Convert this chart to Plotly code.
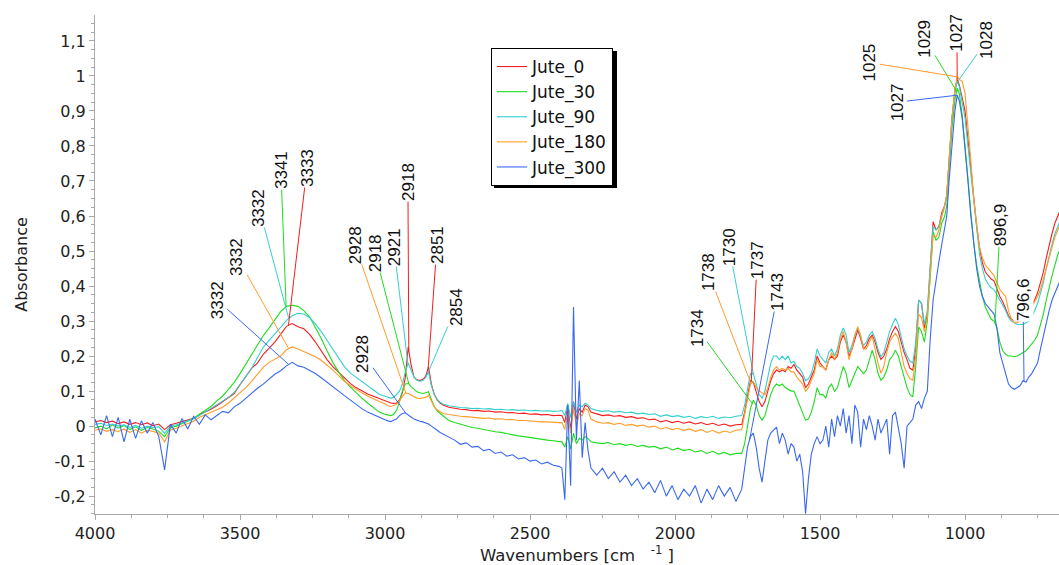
import numpy as np
import plotly.graph_objects as go

# ---- sampling grid (wavenumbers, cm-1), high to low ----
WN = (list(range(4000, 3599, -20)) + list(range(3580, 2999, -20)) +
      list(range(2990, 2799, -10)) + list(range(2780, 2399, -20)) +
      list(range(2390, 2289, -10)) + list(range(2270, 1789, -20)) +
      list(range(1770, 1499, -10)) + list(range(1490, 1129, -10)) +
      [1120, 1110, 1100, 1090, 1080, 1070, 1063, 1055, 1045, 1035, 1027,
       1020, 1010, 1000, 990, 980, 970, 960, 950, 940, 930, 920, 910, 900,
       890, 880, 870, 860, 850, 840, 830, 820, 810, 800, 790, 780, 770,
       760, 750, 740, 730, 720, 710, 700, 690, 680, 670])

# ---- absorbance per sample ----
jute_0 = [
    0.012, 0.016, 0.010, 0.014, 0.007, 0.012, 0.005, 0.010, 0.004, 0.009, 0.001, 0.006, -0.010, 0.004, 0.008, 0.012, 0.016, 0.022, 0.033, 0.040, 0.048,
    0.058, 0.070, 0.080, 0.093, 0.118, 0.142, 0.165, 0.180, 0.205, 0.222, 0.240, 0.262, 0.285, 0.293, 0.284, 0.278, 0.262, 0.240, 0.214, 0.190, 0.170, 0.153, 0.138, 0.122, 0.110, 0.100, 0.092, 0.085, 0.079, 0.073,
    0.068, 0.066, 0.065, 0.066, 0.075, 0.095, 0.140, 0.226, 0.175, 0.140, 0.132, 0.130, 0.133, 0.142, 0.169, 0.120, 0.090, 0.075, 0.066, 0.060,
    0.054, 0.050, 0.048, 0.047, 0.044, 0.045, 0.042, 0.043, 0.040, 0.041, 0.038, 0.039, 0.036, 0.037, 0.034, 0.035, 0.032, 0.033, 0.030, 0.031,
    0.030, 0.010, 0.060, -0.010, 0.070, 0.020, 0.050, 0.040, 0.060, 0.055, 0.040,
    0.035, 0.030, 0.032, 0.028, 0.030, 0.025, 0.027, 0.022, 0.024, 0.018, 0.020, 0.012, 0.016, 0.010, 0.014, 0.008, 0.012, 0.006, 0.010, 0.004, 0.008, 0.002, 0.006, 0.000, 0.004,
    0.005, 0.040, 0.090, 0.130, 0.125, 0.100, 0.070, 0.055, 0.070, 0.100, 0.130, 0.150, 0.160, 0.155, 0.160, 0.155, 0.170, 0.165, 0.176, 0.160, 0.150, 0.140, 0.110, 0.120, 0.140, 0.160, 0.200, 0.180,
    0.170, 0.160, 0.190, 0.200, 0.190, 0.200, 0.240, 0.260, 0.240, 0.200, 0.220, 0.250, 0.274, 0.250, 0.220, 0.230, 0.250, 0.260, 0.240, 0.210, 0.190, 0.200, 0.220, 0.250, 0.270, 0.284, 0.270, 0.240, 0.210, 0.190, 0.165, 0.160, 0.220, 0.360, 0.350, 0.280, 0.320,
    0.450, 0.584, 0.560, 0.570, 0.610, 0.630, 0.660, 0.770, 0.880, 0.960, 0.990, 0.975, 0.940, 0.900, 0.820, 0.740, 0.640, 0.570, 0.510, 0.466, 0.440, 0.430, 0.420, 0.415, 0.390, 0.370, 0.355, 0.335, 0.315, 0.305, 0.300, 0.300, 0.305, 0.310, 0.320, 0.330, 0.345, 0.360, 0.380, 0.410, 0.440, 0.480, 0.520, 0.550, 0.580, 0.600, 0.620,
]
jute_30 = [
    -0.005, 0.000, -0.008, 0.004, -0.006, 0.002, -0.010, -0.002, -0.012, -0.004, -0.008, -0.015, -0.030, -0.005, 0.000, 0.008, 0.014, 0.022, 0.034, 0.045, 0.056,
    0.072, 0.086, 0.105, 0.125, 0.150, 0.178, 0.205, 0.232, 0.258, 0.280, 0.305, 0.327, 0.342, 0.345, 0.342, 0.330, 0.312, 0.282, 0.250, 0.215, 0.182, 0.155, 0.130, 0.112, 0.095, 0.080, 0.066, 0.052, 0.040, 0.034,
    0.032, 0.030, 0.034, 0.045, 0.070, 0.100, 0.120, 0.123, 0.113, 0.104, 0.098, 0.095, 0.093, 0.095, 0.098, 0.075, 0.056, 0.043, 0.036, 0.031,
    0.016, 0.010, 0.005, 0.001, -0.004, -0.006, -0.010, -0.012, -0.016, -0.018, -0.022, -0.024, -0.028, -0.030, -0.033, -0.035, -0.038, -0.040, -0.042, -0.044,
    -0.045, -0.060, -0.030, -0.065, -0.020, -0.050, -0.035, -0.040, -0.030, -0.035, -0.045,
    -0.048, -0.050, -0.047, -0.053, -0.050, -0.055, -0.052, -0.058, -0.055, -0.060, -0.058, -0.065, -0.060, -0.068, -0.063, -0.070, -0.066, -0.074, -0.070, -0.078, -0.072, -0.080, -0.075, -0.082, -0.078,
    -0.078, -0.050, 0.000, 0.050, 0.074, 0.060, 0.030, 0.017, 0.030, 0.060, 0.090, 0.110, 0.120, 0.115, 0.120, 0.110, 0.105, 0.100, 0.100, 0.080, 0.060, 0.040, 0.017, 0.020, 0.040, 0.070, 0.110, 0.090,
    0.090, 0.080, 0.110, 0.120, 0.100, 0.110, 0.140, 0.170, 0.150, 0.110, 0.130, 0.150, 0.170, 0.160, 0.150, 0.160, 0.190, 0.217, 0.190, 0.150, 0.131, 0.140, 0.160, 0.190, 0.200, 0.217, 0.200, 0.170, 0.140, 0.110, 0.090, 0.084, 0.170, 0.283, 0.270, 0.240, 0.300,
    0.420, 0.555, 0.530, 0.540, 0.580, 0.600, 0.630, 0.740, 0.850, 0.930, 0.965, 0.950, 0.890, 0.800, 0.700, 0.600, 0.520, 0.460, 0.410, 0.370, 0.340, 0.320, 0.305, 0.300, 0.280, 0.240, 0.215, 0.205, 0.200, 0.200, 0.198, 0.200, 0.205, 0.208, 0.215, 0.225, 0.235, 0.245, 0.260, 0.290, 0.320, 0.360, 0.400, 0.430, 0.460, 0.490, 0.510,
]
jute_90 = [
    0.005, 0.008, 0.002, 0.006, 0.000, 0.004, -0.004, 0.002, -0.006, 0.000, -0.004, -0.002, -0.020, 0.000, 0.004, 0.009, 0.015, 0.021, 0.030, 0.040, 0.050,
    0.060, 0.070, 0.082, 0.096, 0.118, 0.140, 0.165, 0.195, 0.225, 0.245, 0.262, 0.282, 0.302, 0.315, 0.322, 0.320, 0.310, 0.292, 0.270, 0.245, 0.220, 0.195, 0.170, 0.152, 0.140, 0.128, 0.115, 0.102, 0.091, 0.085,
    0.082, 0.080, 0.082, 0.090, 0.100, 0.120, 0.155, 0.180, 0.158, 0.140, 0.131, 0.128, 0.130, 0.138, 0.155, 0.115, 0.090, 0.076, 0.068, 0.063,
    0.058, 0.055, 0.053, 0.052, 0.050, 0.051, 0.049, 0.050, 0.047, 0.048, 0.046, 0.047, 0.045, 0.046, 0.044, 0.045, 0.043, 0.044, 0.042, 0.043,
    0.045, 0.030, 0.065, 0.025, 0.070, 0.040, 0.060, 0.055, 0.065, 0.060, 0.050,
    0.045, 0.042, 0.044, 0.040, 0.042, 0.038, 0.040, 0.035, 0.037, 0.033, 0.035, 0.028, 0.032, 0.027, 0.030, 0.025, 0.028, 0.022, 0.027, 0.024, 0.028, 0.022, 0.026, 0.024, 0.028,
    0.030, 0.060, 0.110, 0.150, 0.150, 0.120, 0.090, 0.080, 0.100, 0.140, 0.180, 0.200, 0.200, 0.190, 0.200, 0.190, 0.200, 0.180, 0.185, 0.170, 0.165, 0.150, 0.130, 0.135, 0.150, 0.180, 0.220, 0.200,
    0.190, 0.180, 0.210, 0.220, 0.200, 0.220, 0.260, 0.280, 0.260, 0.210, 0.230, 0.260, 0.280, 0.255, 0.230, 0.240, 0.260, 0.270, 0.250, 0.220, 0.198, 0.210, 0.240, 0.270, 0.290, 0.308, 0.290, 0.250, 0.220, 0.200, 0.185, 0.180, 0.240, 0.360, 0.350, 0.290, 0.330,
    0.460, 0.570, 0.560, 0.570, 0.600, 0.630, 0.660, 0.770, 0.880, 0.950, 0.985, 0.970, 0.930, 0.880, 0.800, 0.720, 0.630, 0.550, 0.490, 0.450, 0.420, 0.405, 0.395, 0.390, 0.375, 0.360, 0.345, 0.330, 0.310, 0.300, 0.295, 0.290, 0.290, 0.290, 0.295, 0.300, 0.310, 0.330, 0.350, 0.380, 0.410, 0.450, 0.490, 0.520, 0.550, 0.570, 0.590,
]
jute_180 = [
    -0.012, -0.008, -0.015, -0.010, -0.016, -0.008, -0.018, -0.010, -0.020, -0.012, -0.015, -0.020, -0.045, -0.012, -0.006, 0.000, 0.008, 0.014, 0.025, 0.032, 0.040,
    0.047, 0.054, 0.066, 0.080, 0.095, 0.110, 0.128, 0.148, 0.168, 0.182, 0.190, 0.200, 0.218, 0.226, 0.220, 0.213, 0.206, 0.198, 0.188, 0.175, 0.160, 0.144, 0.128, 0.116, 0.105, 0.095, 0.086, 0.077, 0.070, 0.064,
    0.058, 0.056, 0.058, 0.062, 0.072, 0.085, 0.094, 0.094, 0.088, 0.084, 0.080, 0.079, 0.080, 0.082, 0.088, 0.070, 0.055, 0.046, 0.040, 0.036,
    0.033, 0.030, 0.028, 0.027, 0.025, 0.025, 0.022, 0.023, 0.020, 0.021, 0.018, 0.019, 0.016, 0.016, 0.014, 0.014, 0.012, 0.012, 0.010, 0.010,
    0.010, -0.010, 0.040, -0.020, 0.050, 0.000, 0.035, 0.030, 0.050, 0.045, 0.020,
    0.012, 0.008, 0.010, 0.005, 0.008, 0.002, 0.005, 0.000, 0.003, -0.003, 0.000, -0.008, -0.004, -0.010, -0.006, -0.012, -0.008, -0.015, -0.010, -0.018, -0.012, -0.020, -0.014, -0.018, -0.012,
    -0.010, 0.030, 0.080, 0.120, 0.127, 0.110, 0.100, 0.094, 0.090, 0.110, 0.140, 0.160, 0.170, 0.160, 0.165, 0.160, 0.165, 0.155, 0.155, 0.140, 0.130, 0.120, 0.100, 0.110, 0.130, 0.150, 0.190, 0.170,
    0.170, 0.160, 0.190, 0.210, 0.190, 0.210, 0.250, 0.270, 0.240, 0.190, 0.220, 0.260, 0.284, 0.260, 0.220, 0.220, 0.240, 0.256, 0.220, 0.180, 0.151, 0.170, 0.210, 0.240, 0.255, 0.265, 0.250, 0.210, 0.170, 0.150, 0.135, 0.131, 0.200, 0.320, 0.310, 0.270, 0.310,
    0.430, 0.546, 0.540, 0.560, 0.600, 0.630, 0.660, 0.770, 0.880, 0.960, 1.000, 0.990, 0.985, 0.950, 0.860, 0.760, 0.650, 0.570, 0.510, 0.480, 0.460, 0.450, 0.440, 0.430, 0.410, 0.390, 0.380, 0.370, 0.330, 0.305, 0.295, 0.295, 0.300, 0.305, 0.315, 0.325, 0.340, 0.355, 0.370, 0.390, 0.420, 0.450, 0.480, 0.510, 0.540, 0.560, 0.580,
]
jute_300 = [
    0.020, -0.025, 0.030, -0.030, 0.025, -0.045, 0.020, -0.035, 0.015, -0.020, 0.010, -0.030, -0.125, 0.005, -0.020, 0.022, -0.008, 0.028, 0.005, 0.032, 0.018,
    0.030, 0.042, 0.038, 0.055, 0.065, 0.080, 0.095, 0.108, 0.120, 0.135, 0.148, 0.158, 0.172, 0.182, 0.172, 0.168, 0.160, 0.150, 0.138, 0.126, 0.114, 0.100, 0.087, 0.074, 0.062, 0.050, 0.040, 0.032, 0.024, 0.018,
    0.015, 0.013, 0.017, 0.021, 0.030, 0.036, 0.038, 0.031, 0.026, 0.020, 0.016, 0.014, 0.012, 0.010, 0.006, 0.000, -0.007, -0.012, -0.018, -0.022,
    -0.032, -0.040, -0.052, -0.048, -0.060, -0.058, -0.070, -0.066, -0.078, -0.074, -0.086, -0.082, -0.094, -0.090, -0.100, -0.097, -0.108, -0.103, -0.112, -0.115,
    -0.120, -0.210, 0.060, -0.170, 0.340, -0.040, 0.130, -0.090, 0.010, -0.070, -0.120,
    -0.140, -0.120, -0.150, -0.130, -0.160, -0.140, -0.170, -0.150, -0.180, -0.160, -0.190, -0.155, -0.200, -0.170, -0.210, -0.180, -0.200, -0.170, -0.220, -0.180, -0.210, -0.170, -0.200, -0.175, -0.215,
    -0.180, -0.120, -0.060, -0.030, -0.020, -0.060, -0.120, -0.160, -0.100, -0.040, -0.020, -0.010, -0.003, -0.050, -0.020, -0.040, -0.080, -0.050, -0.060, -0.100, -0.080, -0.130, -0.250, -0.150, -0.080, -0.050, -0.030, -0.050,
    -0.040, 0.000, -0.060, 0.020, -0.030, 0.030, 0.000, 0.050, -0.020, 0.030, -0.050, 0.060, 0.040, -0.060, 0.020, -0.010, 0.030, 0.000, -0.040, 0.020, -0.020, 0.000, 0.020, -0.080, 0.030, 0.040, 0.000, -0.050, -0.120, 0.000, 0.010, 0.020, 0.060, 0.070, 0.050, 0.080, 0.100,
    0.250, 0.360, 0.420, 0.470, 0.520, 0.570, 0.600, 0.700, 0.800, 0.900, 0.945, 0.930, 0.880, 0.800, 0.700, 0.600, 0.520, 0.450, 0.400, 0.370, 0.350, 0.340, 0.330, 0.320, 0.280, 0.210, 0.180, 0.150, 0.120, 0.110, 0.105, 0.110, 0.115, 0.130, 0.125, 0.140, 0.150, 0.165, 0.180, 0.220, 0.260, 0.300, 0.330, 0.360, 0.380, 0.400, 0.420,
]

SERIES = ["Jute_0", "Jute_30", "Jute_90", "Jute_180", "Jute_300"]
VALUES = [jute_0, jute_30, jute_90, jute_180, jute_300]
COLORS = ["#f51d1d", "#1fdc1f", "#36cfcf", "#ff9c2a", "#3a68f2"]
for v in VALUES:
    assert len(v) == len(WN), (len(v), len(WN))

# peak labels: (series, peak wavenumber, label centre wavenumber, label centre absorbance)
PEAKS = [
    ("Jute_300", 3332, 3579, 0.360),
    ("Jute_180", 3332, 3510, 0.483),
    ("Jute_90", 3332, 3434, 0.623),
    ("Jute_30", 3341, 3359, 0.731),
    ("Jute_0", 3333, 3269, 0.737),
    ("Jute_180", 2928, 3103, 0.517),
    ("Jute_30", 2918, 3034, 0.494),
    ("Jute_90", 2921, 2969, 0.511),
    ("Jute_0", 2918, 2921, 0.697),
    ("Jute_0", 2851, 2821, 0.517),
    ("Jute_90", 2854, 2755, 0.340),
    ("Jute_300", 2928, 3076, 0.206),
    ("Jute_30", 1734, 1924, 0.280),
    ("Jute_180", 1738, 1886, 0.440),
    ("Jute_90", 1730, 1814, 0.511),
    ("Jute_0", 1737, 1717, 0.474),
    ("Jute_300", 1743, 1645, 0.383),
    ("Jute_300", 1027, 1234, 0.925),
    ("Jute_30", 1029, 1138, 1.106),
    ("Jute_0", 1027, 1028, 1.123),
    ("Jute_90", 1028, 924, 1.103),
    ("Jute_180", 1025, 1328, 1.038),
    ("Jute_30", 896.9, 879, 0.574),
    ("Jute_300", 796.6, 800, 0.360),
]

Y_TICKS = [-0.2, -0.1, 0.0, 0.1, 0.2, 0.3, 0.4, 0.5, 0.6, 0.7, 0.8, 0.9, 1.0, 1.1]
Y_TICK_TEXT = ["-0,2", "-0,1", "0", "0,1", "0,2", "0,3", "0,4", "0,5", "0,6",
               "0,7", "0,8", "0,9", "1", "1,1"]

AXIS_GREY = "#a9a9a9"
TICK_FONT = dict(family="DejaVu Sans", size=16, color="#222222")

fig = go.Figure()
for name, vals, col in zip(SERIES, VALUES, COLORS):
    fig.add_trace(go.Scatter(x=WN, y=vals, mode="lines", name=name,
                             line=dict(color=col, width=1.1)))

wn_up = np.array(WN[::-1], dtype=float)
for name, wn, lx, ly in PEAKS:
    i = SERIES.index(name)
    yv = float(np.interp(wn, wn_up, np.array(VALUES[i][::-1], dtype=float)))
    fig.add_annotation(
        x=wn, y=yv, ax=lx, ay=ly, axref="x", ayref="y",
        text=f"{wn:g}".replace(".", ","), textangle=-90,
        font=dict(family="Liberation Sans", size=17, color="#111111"),
        bgcolor="white", borderpad=0,
        showarrow=True, arrowhead=0, arrowwidth=1, arrowcolor=COLORS[i],
    )

# drop shadow behind the legend box
fig.add_shape(type="rect", xref="paper", yref="paper",
              x0=(494 - 95) / 964, x1=(617 - 95) / 964,
              y0=(514 - 188) / 499, y1=(514 - 51) / 499,
              fillcolor="black", line=dict(width=0), layer="above")

fig.update_layout(
    width=1059, height=565,
    margin=dict(l=95, r=0, t=15, b=51),
    paper_bgcolor="white", plot_bgcolor="white",
    separators=", ",
    showlegend=True,
    legend=dict(x=(491 - 95) / 964, y=(514 - 48) / 499, xanchor="left", yanchor="top",
                bgcolor="white", bordercolor="black", borderwidth=1,
                font=dict(family="DejaVu Sans", size=17, color="#111111"),
                itemwidth=30, tracegroupgap=0),
    xaxis=dict(
        range=[4000, 676], tickmode="linear", tick0=0, dtick=500,
        showgrid=False, zeroline=False, showline=True, linecolor=AXIS_GREY, linewidth=1,
        ticks="outside", ticklen=5, tickcolor=AXIS_GREY, tickfont=TICK_FONT,
        minor=dict(tickmode="linear", tick0=0, dtick=125, ticks="outside", ticklen=3,
                   tickcolor=AXIS_GREY, showgrid=False),
        title=dict(text="Wavenumbers [cm\u00a0\u00a0\u00a0<sup>-1</sup>\u00a0]",
                   font=dict(family="DejaVu Sans", size=16.5, color="#222222"), standoff=6),
    ),
    yaxis=dict(
        range=[-0.251, 1.174], tickmode="array", tickvals=Y_TICKS, ticktext=Y_TICK_TEXT,
        showgrid=False, zeroline=False, showline=True, linecolor=AXIS_GREY, linewidth=1,
        ticks="outside", ticklen=5, tickcolor=AXIS_GREY, tickfont=TICK_FONT,
        minor=dict(tickmode="linear", tick0=0, dtick=0.025, ticks="outside", ticklen=3,
                   tickcolor=AXIS_GREY, showgrid=False),
        title=dict(text="Absorbance", font=dict(family="DejaVu Sans", size=16, color="#222222"),
                   standoff=22),
    ),
)

fig.write_html("out.html")
